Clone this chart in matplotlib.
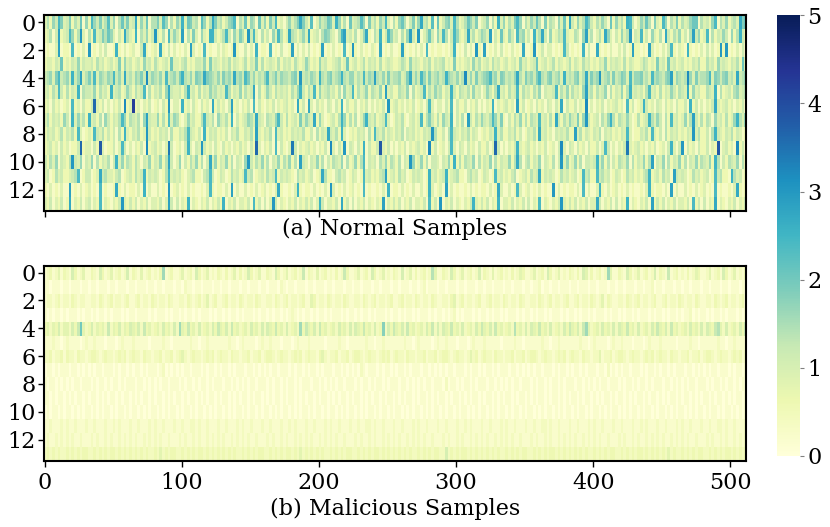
import numpy as np
import matplotlib.pyplot as plt

# each char is one estimated cell level, each char covers 2 columns
chars = "0123456789abcdefghijk"
normal_levels = [0.1, 0.3, 0.6, 0.9, 1.15, 1.4, 1.65, 1.85, 2.05, 2.25, 2.4,
                 2.55, 2.7, 2.85, 3.0, 3.2, 3.4, 3.6, 3.8, 4.0, 4.2]
malicious_levels = [0.0, 0.2, 0.4, 0.6, 0.8, 1.0, 1.2, 1.4, 1.6, 1.8, 2.0,
                    2.2, 2.4, 2.6, 2.8, 3.0, 3.2, 3.4, 3.6, 3.8, 4.0]
n_cols = 512

normal_rows = [
    "35264a73 47253816 2a647359 36158473 4c263815 57396152 64b38745 19625c74"
    "52467a15 38265183 6274a231 46357c74 29136458 73b62518 34596173 5264a315"
    "26851472 6c452918 24673a52 35864713 46152b36 2537a615 36485172 5416382c"
    "42635a74 25364182 6352ba41 36485173 2a615372 53468815 3426a153 62453c78",
    "23514d23 4a625e31 52a34758 63142c53 2b153624 e3251a36 42d15273 1632bb42"
    "35a41637 52e4a315 24163a52 3c542463 c2341576 4315ad34 25136c21 53b24a63"
    "41526d42 e1358416 3a514a63 24c35246 53d14283 2641a562 41b35c41 62354a32"
    "25416d35 1352c631 42635e14 3a241632 51c42536 2415d462 3a152436 41625b42",
    "12113d12 21a12131 e1213141 12b21312 3114c212 31c21413 12131d31 21a12113"
    "13212e21 14131b12 21a12141 12d13131 41212d12 13121a12 e2131213 21c12131"
    "12d21213 131a1212 21213b12 14131e21 d1213141 213121c1 12e12413 31212a41"
    "2121b141 1c212131 131412d2 2121d312 1314a213 21b21213 141312e2 e1213141",
    "23324382 32436243 34253423 42372634 23426342 53234283 32452324 43627343"
    "24352432 35243725 23432524 34253236 42326342 23452382 34235243 42523432"
    "23542634 32435243 45232723 23426352 34253423 42342634 23482342 35243235"
    "24325342 32436243 43252432 23542327 34283423 42324352 25342634 32435283",
    "45637a45 63b46d35 74a36546 5a463c45 36574f46 5463a456 47b54637 65c76546"
    "37564c56 4a746354 6a457465 54673e45 4653b546 7456b546 6354a465 d5463745"
    "56347c46 4a637456 45b65463 5f463745 67a56376 4546c537 5647a546 74563b45"
    "46735c47 56e45637 45763a46 67453a56 5467d365 45f63745 56a37646 7453c456",
    "34253a42 5243b154 43625342 b3452364 2534a152 43526c43 3425b342 52436453"
    "43a52436 2534c152 36425343 42536b42 53a26345 34251634 a2534625 4362d342"
    "25436152 34a25364 5243b425 43526341 36425c34 2534a253 42536143 34a25362"
    "53426d45 25346152 43625b34 3425a342 52436425 43c26342 2543b152 34256345",
    "23142312 31a23142 24h32413 13241f23 k2313241 23142e13 31b23142 14231c24"
    "2314d231 3241a142 13241323 4231c241 c3142314 3142b142 24132413 13241e23"
    "42313241 2314a313 3142a142 24132413 132b1323 4231d241 23142314 3142c142"
    "24132f13 13241323 4231a241 23b42314 31423142 241b2413 1324c323 42313241",
    "35243426 41b36352 b3425164 2435a625 43516d43 36252a36 52136342 25a43516"
    "4352b142 34653c43 15436a42 52342736 43c26312 3425b625 25136b43 5234a312"
    "43521342 3a257425 2643b142 51d42536 435a6372 14253625 2543a342 52c42536"
    "43726e42 341536b5 25436312 5234b536 4152a342 3625d425 25416342 5236b536",
    "24342352 4352a312 32a43524 24152b32 43523e42 32434152 2435a432 41b24342"
    "32414352 24352d32 4351a342 32434352 2415243c 4352b312 32434152 a4352432"
    "43514342 32434e52 2415a432 43524312 3243b352 24352412 4352c342 31434352"
    "2d352432 43514342 3243a312 24352a32 41524342 3243e352 2415b432 43524312",
    "23423142 31224h23 3142i312 2413a413 13241f23 42313g41 2314b314 3e423142"
    "14231324 23142h31 3241a142 13g41323 42313241 f3142e14 3142b142 24i32413"
    "13241323 4231f241 2314a314 31423142 2413h413 1324b323 42313241 2314f314"
    "31423142 2413a413 1324g323 42313241 2314b314 e1423142 24132i13 4231f241",
    "42536143 25e43614 36152435 14b36254 25314362 43625d41 36142536 2514c362"
    "43625143 16e42536 25143625 36251d43 14362514 25436152 3625a143 41536254"
    "25143e62 36251443 14362b25 25436152 43615243 3625c514 52436143 2514e362"
    "36251443 4b362514 25436152 43625d14 36152436 25143625 4362b514 25436152",
    "34125342 2345a124 4123c453 32451234 2534b243 43125b34 34213452 2145a412"
    "43125342 3a451234 2534a243 43215342 34123c52 21453412 4312a342 3245d234"
    "25341243 4312b342 34b23452 21453412 4312a342 32451234 2534c243 43125342"
    "3412a452 2a453412 43125342 3245b234 25341d43 43125342 3412a452 21b53412",
    "21312131 1d121312 3121a121 12c21312 2131b131 13121e12 31213121 1213a212"
    "2131d131 13121312 31213c21 1213b212 21312131 e3121312 3121a121 12131b12"
    "21312131 1312b312 31d13121 12131212 21312c31 1312a312 31213121 1e131212"
    "2131a131 13b21312 31213121 1213b212 2131d131 13121312 3121a121 1213c212",
    "32413241 2c132413 4132a132 1324e324 24132413 32413d41 4132b132 13241324"
    "2b132413 3241a241 413e4132 13241324 2413b413 3241c241 41324132 132d1324"
    "24132413 3241a241 e1324132 1324b324 24132b13 32413241 4132a132 1324e324"
    "24132413 3c413241 4132b132 13241d24 24132413 3241a241 4132c132 13241324",
]

malicious_rows = [
    "12312413 21531241 13215312 41231251 32141231 21381231 12412315 31241213"
    "21312413 12531241 13215312 41231261 32141231 21312631 12412315 31241213"
    "21512413 12312741 13215312 41231251 32141231 21312431 12412315 31241213"
    "21315413 12312841 13215312 41231251 32161231 21312431 12412315 31241213",
    "11011101 10111011 01101110 11011101 10111011 01101110 11021101 10111011"
    "01101110 11011101 10111021 01101110 11011101 10111011 01101110 11011101"
    "10111011 01201110 11011101 10111011 01101110 11011101 10112011 01101110"
    "11011101 10111011 01101110 11011201 10111011 01101110 11011101 10111011",
    "12212312 21321221 12213212 31221231 12312213 21221321 12213212 31241231"
    "12312213 21221321 12213212 31221231 14312213 21221321 12213212 31221231"
    "12312213 21221321 12213412 31221231 12312213 21221321 12213212 31221231"
    "12312213 21241321 12213212 31221231 12312213 21221321 12213212 31221231",
    "10101101 01110101 10101101 01110101 10111101 01110101 10101101 01110101"
    "10101101 01110101 10101101 01210101 10101101 01110101 10101101 01110101"
    "10101101 01110101 10101201 01110101 10101101 01110101 10101101 01110101"
    "10101101 01110101 10101101 01110101 10101101 01120101 10101101 01110101",
    "34243524 42536a42 35243426 24352435 43526342 34253425 28436342 52342536"
    "43526342 34253425 25436342 52342836 43526342 34253425 25436342 52392536"
    "43526342 34253625 25436342 52342536 43526342 34273425 25436342 52342536"
    "43526842 34253425 25436342 52342536 43526342 34253425 25436742 52342536",
    "11121101 21111012 11211101 11012111 21111101 11121101 11111211 01121111"
    "11121101 21111012 11211101 11012111 21111101 11121101 11111211 01121111"
    "11121101 21111012 11211101 11012111 21111101 11121101 11111211 01121111"
    "11121101 21111012 11211101 11012111 21111101 11121101 11111211 01121111",
    "22312231 32213221 23321232 21232312 32213221 22312231 23421232 21232312"
    "32213221 22312231 23321232 21232312 32213421 22312231 23321232 21232312"
    "32213221 22312231 23321232 21242312 32213221 22312231 23321232 21232312"
    "32213221 22412231 23321232 21232312 32213221 22312231 23321232 21232312",
    "01101011 10110101 01011011 10101101 01101011 10120101 01011011 10101101"
    "01101011 10110101 01011011 10101101 01101011 10110101 01021011 10101101"
    "01101011 10110101 01011011 10101101 01101011 10110101 01011011 10101101"
    "01101011 10110201 01011011 10101101 01101011 10110101 01011011 10101101",
    "10110101 01011011 10101101 01101011 10110101 01011011 10101101 01101011"
    "10110101 01011011 10101101 01101011 10110101 01011011 10101101 01101011"
    "10110101 01011011 10201101 01101011 10110101 01011011 10101101 01101011"
    "10110101 01011011 10101101 01101011 10110101 01011011 10101101 01101011",
    "11010110 10101101 01101010 11010110 10101101 01101010 11010110 10101101"
    "01101010 11010110 10101101 01101010 11010110 10101101 01101010 11010110"
    "10101101 01101010 11010110 10101101 01101010 11010110 10101101 01101010"
    "11010110 10101101 01101010 11010110 10101101 01101010 11010110 10101101",
    "01011010 11010101 10101011 01011010 11010101 10101011 01011010 11010101"
    "10101011 01011010 11010101 10101011 01011010 11010101 10101011 01011010"
    "11010101 10101011 01011010 11010101 10101011 01011010 11010101 10101011"
    "01011010 11010101 10101011 01011010 11010101 10101011 01011010 11010101",
    "11211121 21121112 11211121 12121112 11211121 21121112 11211221 21121112"
    "11211121 21121112 11211121 12121112 11211121 21121112 11211221 21121112"
    "11211121 21121112 11211121 12121112 11211121 21121112 11211221 21121112"
    "11211121 21121112 11211121 12121112 11211121 21121112 11211221 21121112",
    "12112121 21211211 12121121 21121212 12112121 21211211 12121121 21121212"
    "12112121 21211211 12121121 21121212 12112121 21211211 12121121 21121212"
    "12112121 21211211 12121121 21121212 12112121 21211211 12121121 21121212"
    "12112121 21211211 12121121 21121212 12112121 21211211 12121121 21121212",
    "23232322 32323233 22323232 33232323 23232322 32423233 22323232 33232323"
    "23232322 32323233 22323232 33232423 23232322 32323233 22323232 33232323"
    "23232322 32323233 22523232 33232323 23232322 32323233 22323232 33232323"
    "23232322 32323233 22323232 33232323 23242322 32323233 22323232 33232323",
]

x_ticks = [0, 100, 200, 300, 400, 500]
y_ticks = [0, 2, 4, 6, 8, 10, 12]
cbar_ticks = [0, 1, 2, 3, 4, 5]
labels = ["(a) Normal Samples", "(b) Malicious Samples"]


def decode(rows, table):
    half = n_cols // 2
    out = []
    for r in rows:
        vals = [table[chars.index(c)] for c in r.replace(" ", "")][:half]
        vals += [vals[-1]] * (half - len(vals))
        out.append(np.repeat(vals, 2))
    return np.array(out)


normal = decode(normal_rows, normal_levels)
malicious = decode(malicious_rows, malicious_levels)

plt.rcParams['font.family'] = 'DejaVu Serif'
plt.rcParams['font.size'] = 16

fig = plt.figure(figsize=(8.3, 5.27), dpi=100)
ax1 = fig.add_axes([0.053, 0.600, 0.846, 0.371])
ax2 = fig.add_axes([0.053, 0.126, 0.846, 0.370])
cax = fig.add_axes([0.936, 0.135, 0.028, 0.836])

for ax, data, lab in zip([ax1, ax2], [normal, malicious], labels):
    im = ax.imshow(data, cmap='YlGnBu', vmin=0, vmax=5, aspect='auto',
                   interpolation='nearest')
    ax.set_yticks(y_ticks)
    ax.set_xticks(x_ticks)
    ax.tick_params(length=4, width=1, labelsize=16, pad=2)
    for s in ax.spines.values():
        s.set_linewidth(1.5)

ax1.set_xlabel(labels[0], fontsize=16, labelpad=1)
ax1.tick_params(axis='x', labelbottom=False)
ax2.tick_params(axis='x', pad=4)
ax2.set_xlabel(labels[1], fontsize=16, labelpad=3)

cbar = fig.colorbar(im, cax=cax, ticks=cbar_ticks)
cbar.outline.set_visible(False)
cax.tick_params(length=3, width=0.8, color='gray', labelsize=16, pad=2)

fig.savefig('out.png', dpi=100)
